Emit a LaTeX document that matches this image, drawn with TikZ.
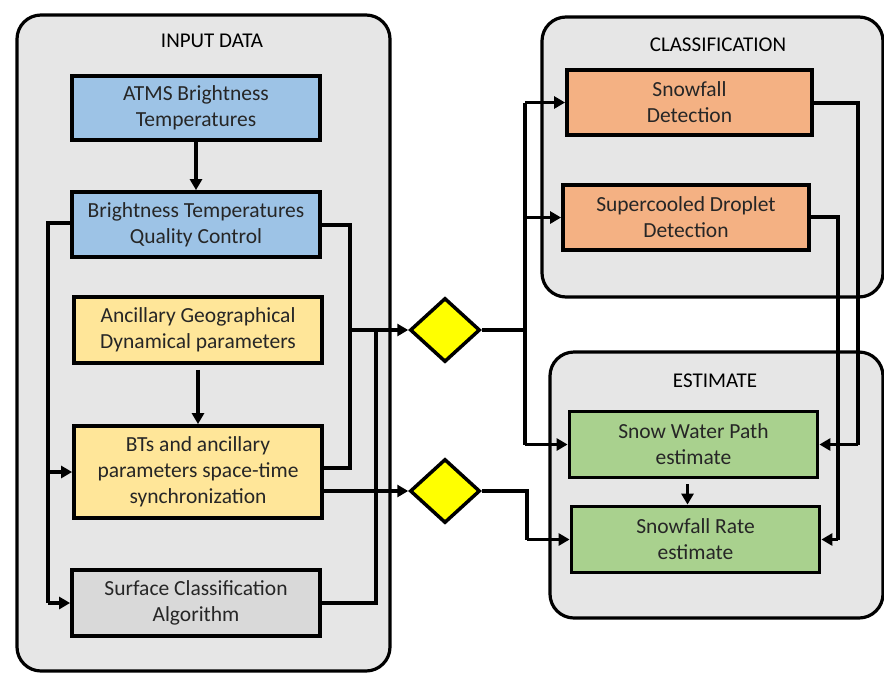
\documentclass[tikz,border=0pt]{standalone}
\usepackage{fontspec}
\setmainfont{Carlito}
\usetikzlibrary{arrows.meta,shapes.geometric,positioning}

\definecolor{panelgray}{HTML}{E6E6E6}
\definecolor{inblue}{HTML}{9DC3E6}
\definecolor{inyellow}{HTML}{FFE699}
\definecolor{ingray}{HTML}{D9D9D9}
\definecolor{clsorange}{HTML}{F4B183}
\definecolor{estgreen}{HTML}{A9D18E}
\definecolor{gate}{HTML}{FFFF00}
\definecolor{ink}{HTML}{262626}

\tikzset{
  panel/.style={draw=black, line width=3.2pt, fill=panelgray, rounded corners=24pt},
  paneltitle/.style={font=\fontsize{21}{25}\selectfont, text=black},
  procbox/.style={draw=black, line width=3.8pt, rectangle, minimum width=248pt,
    minimum height=65pt, align=center, inner sep=0pt, text=ink,
    font=\fontsize{21.5}{26}\selectfont},
  gatenode/.style={draw=black, line width=3.5pt, diamond, fill=gate,
    minimum width=70pt, minimum height=64pt, inner sep=0pt, aspect=1.1},
  link/.style={line width=3.4pt, line join=miter},
  arr/.style={link, -{Triangle[length=11pt,width=12pt]}},
}

\begin{document}
\begin{tikzpicture}[x=1pt,y=-1pt]
\useasboundingbox (0,0) rectangle (884,673);

% panels
\draw[panel] (17,15) rectangle (390,671);
\draw[panel] (542,17) rectangle (883,297);
\draw[panel] (550,352) rectangle (883,618);

\node[paneltitle] (tin)  at (212,41) {INPUT DATA};
\node[paneltitle] (tcls) at (718,45) {CLASSIFICATION};
\node[paneltitle] (test) at (715,381) {ESTIMATE};

% input data blocks
\node[procbox, fill=inblue, minimum height=64pt] (atms) at (196,108)
  {ATMS Brightness\\Temperatures};
\node[procbox, fill=inblue] (btqc) at (196,224.5)
  {Brightness Temperatures\\Quality Control};
\node[procbox, fill=inyellow, minimum height=66pt] (anc) at (198,330)
  {Ancillary Geographical\\Dynamical parameters};
\node[procbox, fill=inyellow, minimum height=92pt] (sync) at (198,472)
  {BTs and ancillary\\parameters space-time\\synchronization};
\node[procbox, fill=ingray, minimum height=66pt] (surf) at (196,603)
  {Surface Classification\\Algorithm};

% decision gates
\node[gatenode] (g1) at (445,330) {};
\node[gatenode] (g2) at (445,491) {};

% classification blocks
\node[procbox, fill=clsorange, minimum width=245pt] (snowdet) at (689.5,102.5)
  {Snowfall\\Detection};
\node[procbox, fill=clsorange, minimum width=246pt] (scd) at (686,217.5)
  {Supercooled Droplet\\Detection};

% estimate blocks
\node[procbox, fill=estgreen, minimum width=248pt, minimum height=66pt] (swp) at (693.5,444.5)
  {Snow Water Path\\estimate};
\node[procbox, fill=estgreen, minimum width=248pt, minimum height=66pt] (rate) at (695.5,539.5)
  {Snowfall Rate\\estimate};

% junction points
\coordinate (jl) at (48,223);
\coordinate (jr) at (350,225);
\coordinate (js) at (376,603);
\coordinate (jg1) at (525,330);
\coordinate (jg2) at (527,491);
\coordinate (jsd) at (858,103);
\coordinate (jsc) at (838,217);

% input flow
\draw[arr] (atms.south) -- (btqc.north);
\draw[arr] ([yshift=-5pt]anc.south) -- (anc.south |- sync.north);
\draw[link] ([yshift=1.5pt]btqc.west) -- (jl) -- (jl |- surf.west);
\draw[arr] (jl |- surf.west) -- (surf.west);
\draw[arr] (jl |- sync.west) -- (sync.west);
\draw[link] ([yshift=-0.5pt]btqc.east) -- (jr) -- (jr |- 0,468) -- (sync.east |- 0,468);
\draw[link] (surf.east) -- (js) -- (js |- g1.west);
\draw[arr] (jr |- g1.west) -- (g1.west);
\draw[arr] ([yshift=-19pt]sync.east) -- (g2.west);

% classification and estimate flow
\draw[link] (g1.east) -- (jg1);
\draw[link] (jg1) -- (jg1 |- snowdet.west);
\draw[arr] (jg1 |- snowdet.west) -- (snowdet.west);
\draw[arr] (jg1 |- scd.west) -- (scd.west);
\draw[link] (jg1) -- (jg1 |- swp.west);
\draw[arr] (jg1 |- swp.west) -- (swp.west);
\draw[link] (g2.east) -- (jg2) -- (jg2 |- rate.west);
\draw[arr] (jg2 |- rate.west) -- (rate.west);

\draw[link] (snowdet.east |- jsd) -- (jsd) -- (jsd |- swp.east);
\draw[arr] (jsd |- swp.east) -- (swp.east);
\draw[link] (scd.east |- jsc) -- (jsc) -- (jsc |- rate.east);
\draw[arr] (jsc |- rate.east) -- (rate.east);

\draw[arr] ([xshift=-6pt,yshift=-5pt]swp.south) -- ([xshift=-8pt]rate.north);
\end{tikzpicture}
\end{document}
